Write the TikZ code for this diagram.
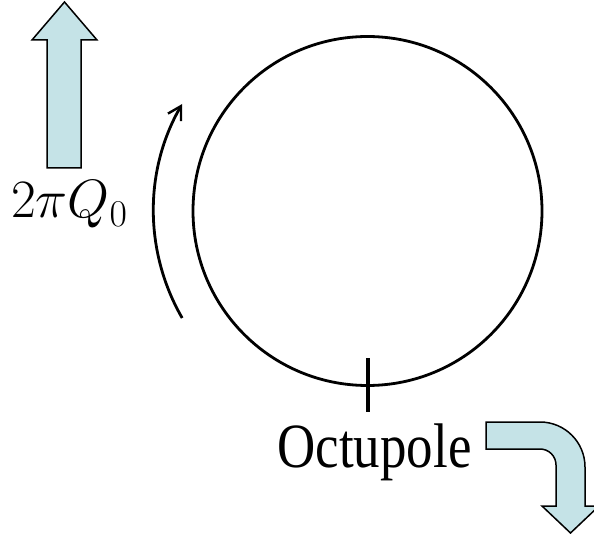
\RequirePackage{fix-cm}
\documentclass[tikz,border=0pt]{standalone}
\usepackage{fontspec}
\newfontfamily\timesfont{Liberation Serif}
\usetikzlibrary{arrows.meta,calc}
\definecolor{arrowfill}{RGB}{197,227,231}
\tikzset{
  blockarrow/.style={draw=black, line width=1.5pt, fill=arrowfill, line join=miter},
  ring/.style={draw=black, line width=2.8pt},
  marker/.style={draw=black, line width=3.2pt},
  lbl/.style={inner sep=0pt, outer sep=0pt}
}
\begin{document}
\begin{tikzpicture}[x=1pt,y=-1pt]
\useasboundingbox (0,0) rectangle (594,534);
% ring
\coordinate (c) at (367.5,211);
\node[ring, circle, minimum size=349pt, inner sep=0pt] (ring) at (c) {};
% octupole marker
\coordinate (t1) at (368,358);
\coordinate (t2) at (368,412);
\draw[marker] (t1) -- (t2);
% tune arc arrow
\coordinate (arcstart) at ($(c)+(150:214)$);
\draw[ring, -{Straight Barb[length=13pt,width=15pt,line width=2.4pt]}] (arcstart) arc[start angle=150, end angle=210, radius=214];
% upward block arrow
\path[blockarrow] (47,168) -- (47,40) -- (32,40) -- (64.5,2) -- (97,40) -- (81,40) -- (81,168) -- cycle;
% bent block arrow
\path[blockarrow] (486,422) -- (540,422) arc[start angle=-90, end angle=0, radius=45]
  -- (585,506) -- (599,506) -- (570.5,533) -- (542,506) -- (556,506) -- (556,465)
  arc[start angle=0, end angle=-90, radius=16] -- (486,449) -- cycle;
% labels
\node[lbl, anchor=base west] (tune) at (11,218) {\fontsize{54}{62}\selectfont $2\pi Q_0$};
\node[lbl, anchor=base] (oct) at (374.5,467) {\scalebox{0.84}[1]{\timesfont\fontsize{63}{70}\selectfont Octupole}};
\end{tikzpicture}
\end{document}
